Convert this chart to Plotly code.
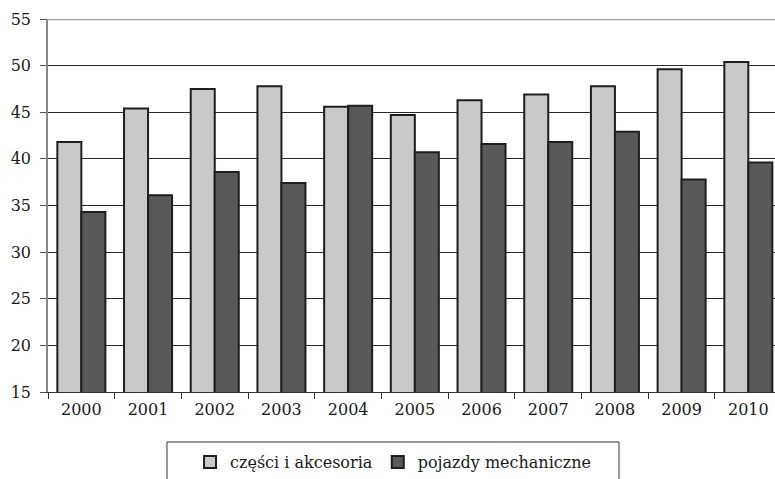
import plotly.graph_objects as go

years = ["2000", "2001", "2002", "2003", "2004", "2005", "2006", "2007", "2008", "2009", "2010"]
czesci = [41.8, 45.4, 47.5, 47.8, 45.6, 44.7, 46.3, 46.9, 47.8, 49.6, 50.4]
pojazdy = [34.3, 36.1, 38.6, 37.4, 45.7, 40.7, 41.6, 41.8, 42.9, 37.8, 39.6]
y_ticks = [15, 20, 25, 30, 35, 40, 45, 50, 55]

serif = "DejaVu Serif"

fig = go.Figure()
fig.add_trace(go.Bar(
    x=years, y=czesci, name="części i akcesoria",
    marker=dict(color="#c8c9cb", line=dict(color="#1e1e1e", width=2)),
))
fig.add_trace(go.Bar(
    x=years, y=pojazdy, name="pojazdy mechaniczne",
    marker=dict(color="#58595b", line=dict(color="#1e1e1e", width=2)),
))

fig.update_layout(
    width=775, height=479,
    margin=dict(l=48, r=0, t=19, b=87),
    paper_bgcolor="white", plot_bgcolor="white",
    barmode="group", bargap=0.28, bargroupgap=0,
    font=dict(family=serif, size=16, color="#1a1a1a"),
    showlegend=True,
    legend=dict(
        orientation="h", x=0.4746, xanchor="center", y=-0.143, yanchor="top",
        font=dict(family=serif, size=16, color="#1a1a1a"),
        itemwidth=30, traceorder="normal",
        bgcolor="rgba(0,0,0,0)",
    ),
    xaxis=dict(
        type="category", range=[-0.5, 10.4],
        tickson="boundaries", ticks="outside", ticklen=6, tickcolor="#333",
        showline=True, linecolor="#333", linewidth=1,
        showgrid=False, tickfont=dict(family=serif, size=16),
        ticklabelstandoff=3,
    ),
    yaxis=dict(
        range=[15, 55], tickvals=y_ticks,
        ticks="outside", ticklen=6, tickcolor="#555",
        showline=True, linecolor="#888", linewidth=1.5,
        showgrid=True, gridcolor="#2a2a2a", gridwidth=1,
        tickfont=dict(family=serif, size=16),
        ticklabelstandoff=6,
        zeroline=False,
    ),
)

# grey top frame line at 55
fig.add_shape(type="line", xref="paper", yref="y", x0=0, x1=1, y0=55, y1=55,
              line=dict(color="#a0a0a0", width=2.5))
# legend frame
fig.add_shape(type="rect", xref="paper", yref="paper",
              x0=0.1637, x1=0.7854, y0=-0.134, y1=-0.35,
              line=dict(color="#333", width=1), fillcolor="rgba(0,0,0,0)")

fig.write_html("out.html")
